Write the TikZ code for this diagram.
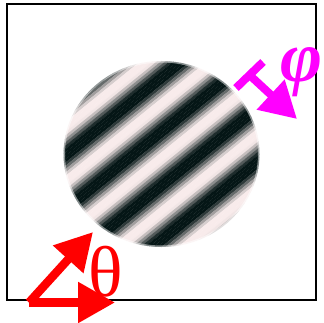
\documentclass[tikz,border=0pt]{standalone}
\usepackage{fontspec}
\setmainfont{Liberation Serif}
\usepackage{xcolor}
\usepackage{tikz}
\usetikzlibrary{arrows.meta,positioning}

\definecolor{gratingdark}{HTML}{051616}
\definecolor{gratinglight}{HTML}{F8EBEB}
\definecolor{thetared}{RGB}{255,0,0}
\definecolor{phimagenta}{RGB}{255,0,255}

\begin{document}
\begin{tikzpicture}[
        x=1pt, y=-1pt,
        frame/.style={draw=black,line width=2.8pt},
        thetaarrow/.style={draw=thetared,line width=8.5pt,-{Triangle[length=37pt,width=39pt]}},
        phiarrow/.style={draw=phimagenta,line width=8pt,-{Triangle[length=36pt,width=39pt]}},
        phibarline/.style={draw=phimagenta,line width=8pt},
        every node/.style={inner sep=0pt}]
        \useasboundingbox (0,0) rectangle (323,323);
        % stimulus
        \begin{scope}
          \clip (161.5,154) ellipse (98 and 93);
          \begin{scope}[shift={(161.5,154)},rotate=39]
            \foreach \i in {-60,...,60} {
              \pgfmathsetmacro\gratingval{min(100,max(0,52+62*cos(\i*22.5+150)))}
              \fill[gratingdark!\gratingval!gratinglight] (-140,\i*2.625-1.4) rectangle (140,\i*2.625+1.4);
            }
          \end{scope}
        \end{scope}
        \draw[white,opacity=0.5,line width=3pt] (161.5,154) ellipse (98 and 93);
        \draw[frame] (7,4) rectangle (316,300);
        % orientation
        \coordinate (thetaorigin) at (29,302.5);
        \coordinate (thetax) at (115,302.5);
        \coordinate (thetadiag) at (93,232);
        \draw[thetaarrow] (thetaorigin) -- (thetax);
        \draw[thetaarrow] (thetaorigin) -- (thetadiag);
        \node[thetared,font=\fontsize{72}{72}\selectfont] (thetalabel) at (105.5,272) {θ};
        % phase
        \coordinate (phibarA) at (236,88);
        \coordinate (phibarB) at (263,62);
        \coordinate (phibase) at (249.5,75);
        \coordinate (phitip) at (297,119);
        \draw[phibarline] (phibarA) -- (phibarB);
        \draw[phiarrow] (phibase) -- (phitip);
        \node[phimagenta,font=\fontsize{72}{72}\selectfont\bfseries\itshape] (philabel) at (302,72) {φ};
\end{tikzpicture}
\end{document}
